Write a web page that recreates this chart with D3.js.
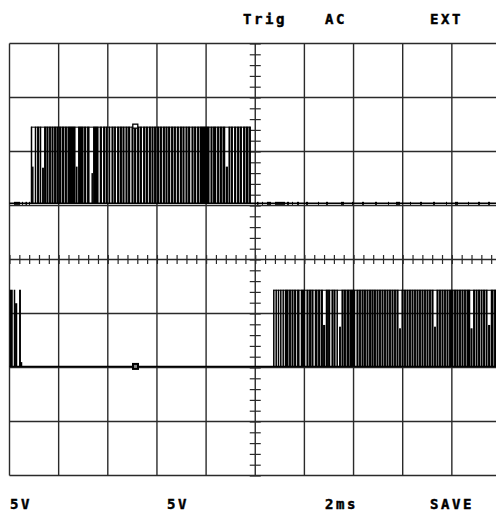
<!DOCTYPE html>
<html>
<head>
<meta charset="utf-8">
<script src="https://cdn.jsdelivr.net/npm/d3@7/dist/d3.min.js"></script>
<style>
  html, body { margin: 0; padding: 0; background: #fff; }
  svg { display: block; }
  text { font-family: "DejaVu Sans Mono", monospace; font-weight: bold; font-size: 14px; letter-spacing: 2.6px; fill: #000; stroke: #000; stroke-width: 0.45px; }
</style>
</head>
<body>
<svg id="scope" width="496" height="513"></svg>
<script>
// ---------- labels ----------
const topLabels = ["Trig", "AC", "EXT"];
const bottomLabels = ["5V", "5V", "2ms", "SAVE"];

// ---------- settings (volts / ms) ----------
const timeDivs = [0, 2, 4, 6, 8, 10, 12, 14, 16, 18, 20];          // ms, 2ms/div
const voltDivs = [-20, -15, -10, -5, 0, 5, 10, 15, 20];           // V, 5V/div
const ch1Offset = 5.2;     // V, channel 1 ground position
const ch2Offset = -9.9;    // V, channel 2 ground position
const highLevel = 7.1;     // V, logic high amplitude

// ---------- channel 1 : pulse bars [startPoint, endPoint] ----------
const ch1Bars = [
  [21.5,22.5],[25.5,26.5],[27.8,29.5],[30.5,31.5],[34.8,36.5],[37.2,38.8],[39.8,41.2],
  [42.2,43.8],[44.8,46.5],[47.2,48.8],[49.8,51.5],[52.5,54.5],[55.5,57.2],[58.2,65.8],
  [68.8,73.8],[74.8,76.5],[77.8,79.8],[83.8,88.8],[90.5,92.2],[93.8,95.5],[96.5,97.8],
  [99.5,100.5],[102.2,103.8],[104.8,106.2],[107.8,109.5],[110.5,112.2],[113.2,114.8],
  [116.2,117.8],[118.8,120.5],[122.2,123.8],[124.8,126.5],[127.8,129.5],[130.5,132.2],
  [133.8,135.5],[136.5,138.2],[139.5,141.2],[142.2,143.8],[144.8,146.5],[147.8,149.5],
  [150.5,152.2],[153.5,155.2],[156.2,157.8],[158.8,160.5],[161.8,163.5],[164.5,166.2],
  [167.5,169.2],[170.5,172.2],[173.2,174.8],[176.2,177.8],[178.8,180.5],[182.2,183.8],
  [184.8,186.5],[187.8,189.5],[190.5,199.8],[201.2,202.8],[203.8,206.5],[207.8,209.5],
  [210.5,212.2],[213.2,215.5],[219.2,220.5],[221.5,223.2],[224.8,226.5],[227.8,229.5],
  [230.5,232.2],[233.8,235.5],[236.5,238.8],[239.8,241.2]
];
// partial-height pulses [start, end, level V]
const ch1Partial = [[22.8,23.8,3.4],[32.8,34.2,3.3],[66.5,67.8,3.4],[82.2,83.2,2.8],[216.5,218.2,3.4]];
// glitches on the ground line [start, end]
const ch1Dots = [
  [4.5,10.5],[12.5,13.5],[16,17.5],[19.5,20.5],
  [247.5,249],[252.5,253.5],[257.5,261.5],[265.5,275.5],[277.5,279.5],[282.5,283.5],
  [287.5,289.5],[296.5,298.5],[308.5,309.5],[316.5,318.5],[331.5,334.5],[342.5,343.5],
  [352.5,354.5],[365.5,367.5],[378.5,379.5],[386.5,390.5],[400.5,401.5],[410.5,412.5],
  [423.5,425.5],[436.5,437.5],[445.5,448.5],[458.5,459.5],[468.5,470.5],[478.5,480.5]
];

// ---------- channel 2 ----------
const ch2Bars = [
  [0.5,3.0],[4.5,5.5],[9.8,11.2],
  [263.8,264.8],[266.2,267.2],[268.5,269.5],[270.8,271.8],[273.2,274.2],[275.5,278.8],
  [279.8,281.2],[282.2,283.8],[284.8,286.5],[287.8,289.8],[291.5,295.5],[297.2,298.8],
  [299.8,301.5],[302.2,303.8],[305.5,307.8],[308.8,310.5],[311.5,313.2],[316.5,318.2],
  [318.8,320.5],[322.2,323.8],[324.5,325.8],[327.2,328.2],[332.2,333.8],[334.5,336.2],
  [337.2,339.8],[340.5,345.5],[347.2,348.8],[349.8,351.2],[352.2,353.8],[354.5,356.2],
  [357.2,358.8],[359.8,361.5],[362.2,363.8],[364.5,366.2],[367.2,368.8],[369.8,371.2],
  [372.2,373.8],[374.8,376.2],[377.2,378.8],[379.8,381.2],[382.2,383.8],[384.8,386.2],
  [387.2,388.8],[392.2,393.8],[394.8,396.2],[397.2,398.8],[399.8,401.2],[402.2,403.8],
  [404.8,406.2],[407.2,408.8],[409.8,411.2],[412.2,413.8],[414.8,416.2],[417.2,418.8],
  [419.8,421.2],[422.2,423.8],[427.2,428.8],[429.8,431.2],[432.2,433.8],[434.8,436.2],
  [437.2,438.8],[439.8,443.8],[444.8,446.5],[447.2,448.8],[449.8,451.2],[452.2,453.8],
  [454.8,456.2],[457.2,460.5],[463.8,465.5],[466.5,467.8],[468.8,470.5],[471.5,472.8],
  [473.8,475.5],[476.5,477.8],[481.5,483.8],[484.8,486.5]
];
const ch2Partial = [
  [5.8,7.5,5.85],[10.5,12.5,0.4],[313.8,315.5,3.84],[329.8,331.2,3.68],[389.8,391.2,3.53],
  [424.8,426.2,3.68],[461.2,462.8,3.53],[478.8,480.5,3.84]
];

// burst spans for top edges [start, end]
const ch1Burst = [21.5, 241.2];
const ch2Burst = [263.8, 486.5];

// cursor markers [point, V]
const markers = [[125.8, ch1Offset + highLevel, "open"], [126, ch2Offset, "filled"]];

// ---------- scales ----------
const timeScale = d3.scaleLinear().domain([0, 20]).range([9.5, 501]);
const pointScale = d3.scaleLinear().domain([0, 491.5]).range([9.5, 501]);
const voltScale = d3.scaleLinear().domain([-20, 20]).range([475.5, 43.5]);

const svg = d3.select("#scope");
const gridColor = "#2a2a2a";
const widen = 0.25;   // beam width spread (px) each side

// ---------- graticule ----------
const grid = svg.append("g");
grid.selectAll("line.v").data(timeDivs).join("line")
  .attr("x1", d => timeScale(d)).attr("x2", d => timeScale(d))
  .attr("y1", voltScale(20)).attr("y2", voltScale(-20))
  .attr("stroke", gridColor).attr("stroke-width", 1.4);
grid.selectAll("line.h").data(voltDivs).join("line")
  .attr("x1", timeScale(0)).attr("x2", timeScale(20))
  .attr("y1", d => voltScale(d)).attr("y2", d => voltScale(d))
  .attr("stroke", gridColor).attr("stroke-width", 1.4);

// centre axes minor ticks (via d3 axes)
const hAxis = d3.axisBottom(timeScale).tickValues(d3.range(0, 20.001, 0.4)).tickSize(9).tickFormat("");
svg.append("g").attr("transform", `translate(0,${voltScale(0) - 4.5})`).call(hAxis)
  .call(g => g.select(".domain").remove())
  .call(g => g.selectAll("line").attr("stroke", gridColor).attr("stroke-width", 1.2));
const vAxis = d3.axisRight(voltScale).tickValues(d3.range(-20, 20.001, 1)).tickSize(11).tickFormat("");
svg.append("g").attr("transform", `translate(${timeScale(10) - 5.5},0)`).call(vAxis)
  .call(g => g.select(".domain").remove())
  .call(g => g.selectAll("line").attr("stroke", gridColor).attr("stroke-width", 1.2));

// ---------- traces ----------
function drawChannel(offset, bars, partial, dots, burst) {
  const g = svg.append("g");
  // ground line
  g.append("line")
    .attr("x1", pointScale(0)).attr("x2", 496)
    .attr("y1", voltScale(offset)).attr("y2", voltScale(offset))
    .attr("stroke", "#000").attr("stroke-width", 1.5);
  // top edge of burst
  g.append("line")
    .attr("x1", pointScale(burst[0])).attr("x2", pointScale(burst[1]))
    .attr("y1", voltScale(offset + highLevel) + 0.5).attr("y2", voltScale(offset + highLevel) + 0.5)
    .attr("stroke", "#000").attr("stroke-width", 1);
  g.selectAll("rect.bar").data(bars).join("rect")
    .attr("x", d => pointScale(d[0]) - widen)
    .attr("width", d => pointScale(d[1]) - pointScale(d[0]) + 2 * widen)
    .attr("y", voltScale(offset + highLevel))
    .attr("height", voltScale(offset) - voltScale(offset + highLevel))
    .attr("fill", "#000");
  g.selectAll("rect.part").data(partial).join("rect")
    .attr("x", d => pointScale(d[0]) - widen)
    .attr("width", d => pointScale(d[1]) - pointScale(d[0]) + 2 * widen)
    .attr("y", d => voltScale(offset + d[2]))
    .attr("height", d => voltScale(offset) - voltScale(offset + d[2]))
    .attr("fill", "#000");
  g.selectAll("rect.dot").data(dots).join("rect")
    .attr("x", d => pointScale(d[0]))
    .attr("width", d => pointScale(d[1]) - pointScale(d[0]))
    .attr("y", voltScale(offset) - 1.5)
    .attr("height", 3)
    .attr("fill", "#000");
}
drawChannel(ch1Offset, ch1Bars, ch1Partial, ch1Dots, ch1Burst);
drawChannel(ch2Offset, ch2Bars, ch2Partial, [], ch2Burst);

// markers
markers.forEach(m => {
  const cx = pointScale(m[0]), cy = voltScale(m[1]);
  if (m[2] === "open") {
    svg.append("rect").attr("x", cx - 2.5).attr("y", cy - 2.5).attr("width", 5).attr("height", 4)
      .attr("fill", "#fff").attr("stroke", "#000").attr("stroke-width", 1.3);
  } else {
    svg.append("rect").attr("x", cx - 3.5).attr("y", cy - 3.5).attr("width", 7).attr("height", 7)
      .attr("fill", "#000");
    svg.append("rect").attr("x", cx - 1.5).attr("y", cy - 1.5).attr("width", 3).attr("height", 3)
      .attr("fill", "#888");
  }
});

// ---------- labels ----------
const topX = [243, 325, 430];
svg.selectAll("text.top").data(topLabels).join("text")
  .attr("x", (d, i) => topX[i]).attr("y", 23.5).text(d => d);
const botX = [10, 167, 325, 430];
svg.selectAll("text.bot").data(bottomLabels).join("text")
  .attr("x", (d, i) => botX[i]).attr("y", 509).text(d => d);
</script>
</body>
</html>
